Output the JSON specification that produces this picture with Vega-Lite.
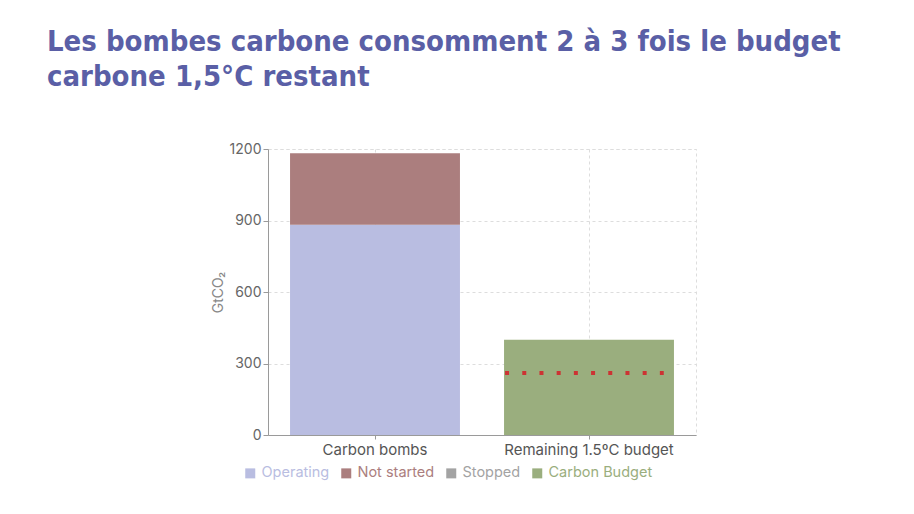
{
  "$schema": "https://vega.github.io/schema/vega-lite/v6.json",
  "width": 428,
  "height": 286,
  "autosize": {"type": "none"},
  "padding": {"left": 268, "top": 149, "right": 218, "bottom": 79},
  "background": "white",
  "title": {
    "text": ["Les bombes carbone consomment 2 à 3 fois le budget", "carbone 1,5°C restant"],
    "anchor": "start",
    "frame": "group",
    "dx": -221,
    "offset": 50,
    "font": "DejaVu Sans Condensed, Lato",
    "fontSize": 29,
    "fontWeight": "bold",
    "lineHeight": 35,
    "color": "#5a5fa6"
  },
  "config": {
    "view": {"stroke": "#dddddd", "strokeDash": [3, 3]},
    "axis": {
      "labelFont": "Inter",
      "titleFont": "Inter",
      "labelColor": "#666666",
      "domainColor": "#9a9a9a",
      "tickColor": "#9a9a9a",
      "gridColor": "#dddddd",
      "gridDash": [3, 3]
    }
  },
  "datasets": {
    "bars": [
      {"category": "Carbon bombs", "type": "Operating", "value": 882, "order": 1},
      {"category": "Carbon bombs", "type": "Not started", "value": 300, "order": 2},
      {"category": "Remaining 1.5ºC budget", "type": "Carbon Budget", "value": 400, "order": 1}
    ],
    "line": [
      {"category": "Remaining 1.5ºC budget", "value": 260}
    ]
  },
  "layer": [
    {
      "data": {"name": "bars"},
      "mark": {"type": "bar"},
      "encoding": {
        "x": {
          "field": "category",
          "type": "nominal",
          "sort": ["Carbon bombs", "Remaining 1.5ºC budget"],
          "scale": {"paddingInner": 0.206, "paddingOuter": 0.103},
          "axis": {
            "title": null,
            "labelAngle": 0,
            "labelFontSize": 15,
            "labelColor": "#555555",
            "labelPadding": 3,
            "tickSize": 4,
            "grid": true
          }
        },
        "y": {
          "field": "value",
          "type": "quantitative",
          "stack": "zero",
          "scale": {"domain": [0, 1200]},
          "axis": {
            "title": "GtCO₂",
            "titleFontSize": 14,
            "titleFontWeight": "normal",
            "titleColor": "#888888",
            "titlePadding": 4,
            "values": [0, 300, 600, 900, 1200],
            "format": "d",
            "labelFontSize": 14,
            "tickSize": 5,
            "grid": true
          }
        },
        "color": {
          "field": "type",
          "type": "nominal",
          "scale": {
            "domain": ["Operating", "Not started", "Stopped", "Carbon Budget"],
            "range": ["#b9bde1", "#ab7e7e", "#a3a3a3", "#9aae7e"]
          },
          "legend": {
            "title": null,
            "orient": "none",
            "direction": "horizontal",
            "legendX": -25,
            "legendY": 317,
            "symbolType": "square",
            "symbolSize": 100,
            "symbolStrokeWidth": 0,
            "labelFont": "Inter",
            "labelFontSize": 14.5,
            "columnPadding": 9,
            "symbolOffset": 0,
            "labelOffset": 4,
            "encode": {
              "labels": {"update": {"fill": {"scale": "color", "field": "value"}}}
            }
          }
        },
        "order": {"field": "order", "type": "quantitative"}
      }
    },
    {
      "data": {"name": "line"},
      "mark": {"type": "rule", "color": "#cc3333", "strokeWidth": 4, "strokeDash": [4, 13.2], "strokeCap": "butt"},
      "encoding": {
        "x": {"field": "category", "type": "nominal", "bandPosition": 0.006},
        "x2": {"field": "category", "bandPosition": 0.94},
        "y": {"field": "value", "type": "quantitative"}
      }
    }
  ]
}
